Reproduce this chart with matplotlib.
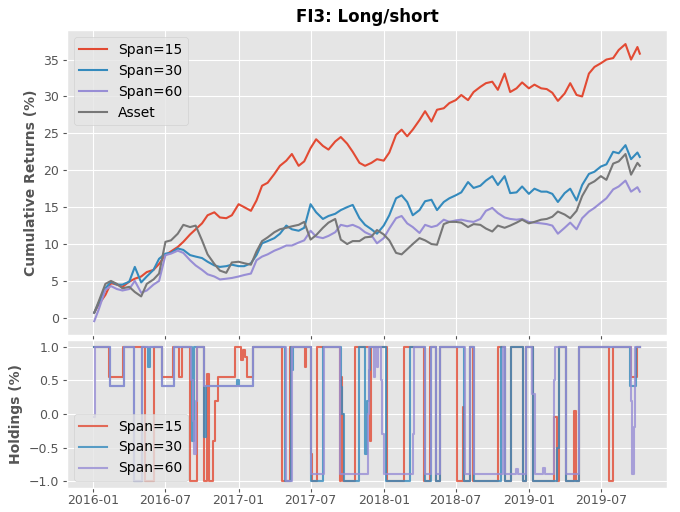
import numpy as np
import pandas as pd
import matplotlib
matplotlib.use("Agg")
from matplotlib import pyplot as plt

# semi-monthly sample dates (1st / 15th), last point is the final trading day
dates = list(pd.date_range("2016-01-01", periods=91, freq="SMS"))
dates[0] = pd.Timestamp("2016-01-04")
dates.append(pd.Timestamp("2019-10-07"))

span15 = [0.7, 1.8, 3.1, 4.7, 4.5, 4.2, 4.9, 5.3, 5.6, 6.2, 6.5, 7.3, 8.5, 9.0, 9.6, 10.3,
          11.3, 12.0, 12.8, 13.9, 14.3, 13.6, 13.5, 13.9, 15.4, 15.0, 14.5, 15.9, 17.9, 18.3,
          19.5, 20.6, 21.3, 22.2, 20.6, 21.2, 23.0, 24.2, 23.3, 22.8, 23.9, 24.5, 23.6, 22.5,
          21.0, 20.6, 21.0, 21.5, 21.3, 22.4, 24.8, 25.5, 24.6, 25.5, 26.8, 28.0, 26.6, 28.2,
          28.4, 29.1, 29.5, 30.2, 29.5, 30.6, 31.3, 31.8, 32.0, 30.9, 33.1, 30.6, 31.1, 31.9,
          31.1, 31.6, 31.1, 31.0, 30.5, 29.4, 30.4, 31.8, 30.2, 30.0, 33.1, 34.0, 34.5, 35.0,
          35.2, 36.3, 37.1, 35.0, 36.7, 35.8]
span30 = [0.7, 2.0, 4.0, 4.9, 4.5, 4.5, 4.9, 6.9, 4.8, 5.6, 6.5, 8.0, 8.7, 8.8, 9.4, 9.2,
          8.5, 8.3, 8.1, 7.6, 7.1, 6.9, 7.0, 7.2, 7.0, 7.0, 7.4, 8.5, 10.1, 10.4,
          10.8, 11.4, 12.5, 12.0, 11.8, 12.2, 15.4, 14.3, 13.4, 13.8, 14.1, 14.6, 15.0, 15.3,
          13.5, 12.6, 12.0, 11.4, 12.5, 13.9, 16.2, 16.6, 15.7, 13.9, 14.6, 15.8, 16.0, 14.6,
          15.7, 16.2, 16.6, 17.0, 18.4, 17.6, 17.9, 18.6, 19.2, 18.0, 19.2, 16.9, 17.0, 17.8,
          16.8, 17.5, 17.1, 17.1, 16.8, 15.7, 16.9, 17.5, 15.9, 18.0, 19.5, 19.8, 20.5, 20.8,
          22.5, 22.3, 23.4, 21.5, 22.4, 21.8]
span60 = [-0.45, 1.1, 3.8, 4.3, 3.9, 3.7, 3.9, 5.0, 3.4, 3.7, 4.5, 5.0, 8.5, 8.7, 9.1, 8.8,
          7.8, 7.1, 6.5, 5.9, 5.6, 5.2, 5.3, 5.4, 5.6, 5.8, 6.0, 7.8, 8.3, 8.6,
          9.1, 9.4, 9.8, 9.8, 10.2, 10.5, 11.8, 11.0, 10.8, 11.1, 11.6, 12.6, 12.4, 12.6,
          12.2, 11.6, 11.2, 10.1, 10.8, 12.1, 13.5, 13.8, 12.8, 12.3, 11.5, 12.6, 12.3, 12.5,
          13.3, 13.0, 13.2, 13.3, 13.1, 13.0, 13.4, 14.5, 14.9, 14.2, 13.6, 13.4, 13.3, 13.4,
          13.0, 12.9, 12.8, 12.7, 12.5, 11.4, 12.2, 12.9, 12.0, 13.5, 14.4, 14.9, 15.6, 16.2,
          17.4, 17.8, 18.6, 17.1, 17.7, 17.1]
asset = [0.7, 2.2, 4.6, 5.0, 4.6, 4.0, 4.2, 3.5, 2.9, 4.6, 5.2, 6.0, 10.3, 10.5, 11.4, 12.6,
         12.3, 12.5, 10.5, 8.6, 7.3, 6.4, 6.1, 7.5, 7.6, 7.4, 7.2, 9.0, 10.4, 10.9,
         11.6, 12.0, 12.2, 12.4, 12.6, 13.0, 10.6, 11.2, 12.2, 12.9, 13.4, 10.6, 10.0, 10.4,
         10.4, 10.9, 11.0, 11.9, 11.3, 10.5, 8.8, 8.6, 9.3, 10.0, 10.8, 10.5, 10.0, 9.9,
         12.7, 13.0, 13.0, 12.9, 12.3, 12.7, 12.6, 12.1, 11.7, 12.5, 12.2, 12.5, 12.9, 13.3,
         12.8, 13.0, 13.3, 13.4, 13.7, 14.4, 14.0, 13.5, 14.5, 16.5, 18.1, 18.5, 19.2, 18.7,
         20.9, 21.2, 22.2, 19.4, 21.0, 20.6]

# holdings: (date the position changes, new position)
hold15 = [("2016-01-04", 1.0), ("2016-02-09", 0.55), ("2016-03-16", 1.0), ("2016-05-11", -1.0),
          ("2016-06-01", 1.0), ("2016-06-22", 0.55), ("2016-07-19", 1.0), ("2016-08-03", 0.55),
          ("2016-08-11", 1.0), ("2016-09-01", -1.0), ("2016-09-19", 1.0), ("2016-10-06", -1.0),
          ("2016-10-13", 0.6), ("2016-10-18", -1.0), ("2016-10-29", -0.4), ("2016-11-03", 0.2),
          ("2016-11-10", 0.55), ("2016-12-24", 1.0), ("2017-01-07", 0.8), ("2017-01-11", 0.95),
          ("2017-01-16", 0.85), ("2017-01-21", 0.55), ("2017-02-05", 1.0), ("2017-04-21", -1.0),
          ("2017-05-10", 1.0), ("2017-06-16", 0.7), ("2017-06-20", 1.0), ("2017-07-01", -0.6),
          ("2017-07-05", -1.0), ("2017-07-18", 1.0), ("2017-09-13", -1.0), ("2017-09-15", 0.55),
          ("2017-09-19", 0.0), ("2017-09-21", -1.0), ("2017-10-20", 1.0), ("2017-11-27", -0.4),
          ("2017-11-30", 1.0), ("2018-01-09", -1.0), ("2018-02-22", 1.0), ("2018-04-13", -1.0),
          ("2018-04-28", 1.0), ("2018-05-12", -1.0), ("2018-05-22", 1.0), ("2018-07-05", -1.0),
          ("2018-07-20", 0.1), ("2018-07-23", -1.0), ("2018-08-05", 1.0), ("2018-08-14", -1.0),
          ("2018-10-16", 1.0), ("2018-11-01", -1.0), ("2018-11-18", 1.0), ("2018-12-17", -1.0),
          ("2018-12-26", 1.0), ("2019-01-12", -1.0), ("2019-03-06", -0.05), ("2019-03-12", -1.0),
          ("2019-03-18", 1.0), ("2019-04-04", -1.0), ("2019-04-25", 0.05), ("2019-04-29", -1.0),
          ("2019-05-07", 1.0), ("2019-07-22", -1.0), ("2019-07-31", 1.0), ("2019-09-16", 0.55),
          ("2019-10-01", 1.0), ("2019-10-07", 1.0)]
hold30 = [("2016-01-04", 1.0), ("2016-02-12", 0.42), ("2016-03-18", 1.0), ("2016-04-12", -1.0),
          ("2016-05-03", 1.0), ("2016-05-19", 0.7), ("2016-05-22", 1.0), ("2016-06-22", 0.42),
          ("2016-07-22", 1.0), ("2016-09-05", -0.4), ("2016-09-12", 1.0), ("2016-10-05", -0.35),
          ("2016-10-12", 0.42), ("2016-12-28", 0.5), ("2017-01-03", 0.42), ("2017-02-05", 1.0),
          ("2017-04-27", -1.0), ("2017-05-12", 1.0), ("2017-05-15", 0.65), ("2017-05-18", 1.0),
          ("2017-07-01", -1.0), ("2017-08-02", 1.0), ("2017-09-15", 0.4), ("2017-09-19", 0.0),
          ("2017-09-22", -1.0), ("2017-10-30", 1.0), ("2017-11-14", -0.6), ("2017-11-20", 0.2),
          ("2017-11-24", 0.65), ("2017-11-28", 1.0), ("2018-01-07", -1.0), ("2018-03-09", 1.0),
          ("2018-04-14", -1.0), ("2018-04-29", 1.0), ("2018-05-12", -1.0), ("2018-05-23", 1.0),
          ("2018-07-23", -1.0), ("2018-08-05", 1.0), ("2018-08-15", -1.0), ("2018-10-24", 1.0),
          ("2018-11-01", -1.0), ("2018-11-18", 1.0), ("2018-12-17", -1.0), ("2018-12-26", 1.0),
          ("2019-01-12", -1.0), ("2019-03-14", -0.5), ("2019-03-18", 1.0), ("2019-04-04", -1.0),
          ("2019-05-07", 1.0), ("2019-09-13", 0.42), ("2019-09-28", 1.0), ("2019-10-07", 1.0)]
hold60 = [("2016-01-04", -0.05), ("2016-01-05", 1.0), ("2016-02-12", 0.42), ("2016-03-18", 1.0),
          ("2016-04-12", -1.0), ("2016-05-03", 1.0), ("2016-06-22", 0.42), ("2016-07-22", 1.0),
          ("2016-09-04", 0.5), ("2016-09-08", -0.1), ("2016-09-12", -0.6), ("2016-09-15", 0.2),
          ("2016-09-18", 1.0), ("2016-10-05", 0.42), ("2017-02-05", 1.0), ("2017-04-29", -1.0),
          ("2017-05-16", 1.0), ("2017-07-02", -0.89), ("2017-08-04", 1.0), ("2017-09-14", -0.89),
          ("2017-11-22", 0.0), ("2017-11-26", 1.0), ("2017-12-08", 0.55), ("2017-12-11", 1.0),
          ("2017-12-15", 0.7), ("2017-12-18", 1.0), ("2017-12-24", 0.5), ("2017-12-28", -0.3),
          ("2018-01-01", -0.89), ("2018-03-16", -0.3), ("2018-03-19", 1.0), ("2018-04-14", -0.89),
          ("2018-04-29", 1.0), ("2018-05-12", -0.89), ("2018-05-23", 1.0), ("2018-07-24", -0.89),
          ("2018-08-06", 1.0), ("2018-08-16", -0.89), ("2018-10-27", 1.0), ("2018-11-01", -0.89),
          ("2018-11-30", -0.82), ("2018-12-05", -0.89), ("2018-12-24", 1.0), ("2019-01-10", 0.3),
          ("2019-01-16", -0.89), ("2019-02-06", -0.8), ("2019-02-11", -0.89), ("2019-03-04", 0.5),
          ("2019-03-07", 1.0), ("2019-04-04", -0.89), ("2019-05-07", 1.0), ("2019-09-14", 0.2),
          ("2019-09-17", -0.89), ("2019-09-22", -0.2), ("2019-09-26", 1.0), ("2019-10-07", 1.0)]

plt.style.use("ggplot")
plt.rcParams["xtick.labelsize"] = 9
plt.rcParams["ytick.labelsize"] = 9
plt.rcParams["xtick.major.size"] = 3
plt.rcParams["ytick.major.size"] = 3
plt.rcParams["xtick.major.pad"] = 1.5
plt.rcParams["ytick.major.pad"] = 2.5

fig, (ax1, ax2) = plt.subplots(2, 1, sharex=True, figsize=(6.8, 5.12), dpi=100,
                               gridspec_kw={"height_ratios": [2.06, 1]})
fig.subplots_adjust(left=0.0985, right=0.981, top=0.941, bottom=0.047, hspace=0.022)

ax1.plot(dates, span15, label="Span=15")
ax1.plot(dates, span30, label="Span=30")
ax1.plot(dates, span60, label="Span=60")
ax1.plot(dates, asset, label="Asset")
ax1.set_ylabel("Cumulative Returns (%)", fontweight="bold", fontsize=10, color="#555555")
ax1.set_title("FI3: Long/short", fontweight="bold", fontsize=12)
ax1.legend(loc="upper left", fontsize=10)
ax1.tick_params(labelbottom=False)

for h, lab in [(hold15, "Span=15"), (hold30, "Span=30"), (hold60, "Span=60")]:
    d = pd.to_datetime([p[0] for p in h])
    v = [p[1] for p in h]
    ax2.plot(d, v, drawstyle="steps-post", alpha=0.8, label=lab)
ax2.set_ylabel("Holdings (%)", fontweight="bold", fontsize=10, color="#555555")
ax2.set_yticks([-1.0, -0.5, 0.0, 0.5, 1.0])
ax2.legend(loc="lower left", fontsize=10)

fig.savefig("out.png")
